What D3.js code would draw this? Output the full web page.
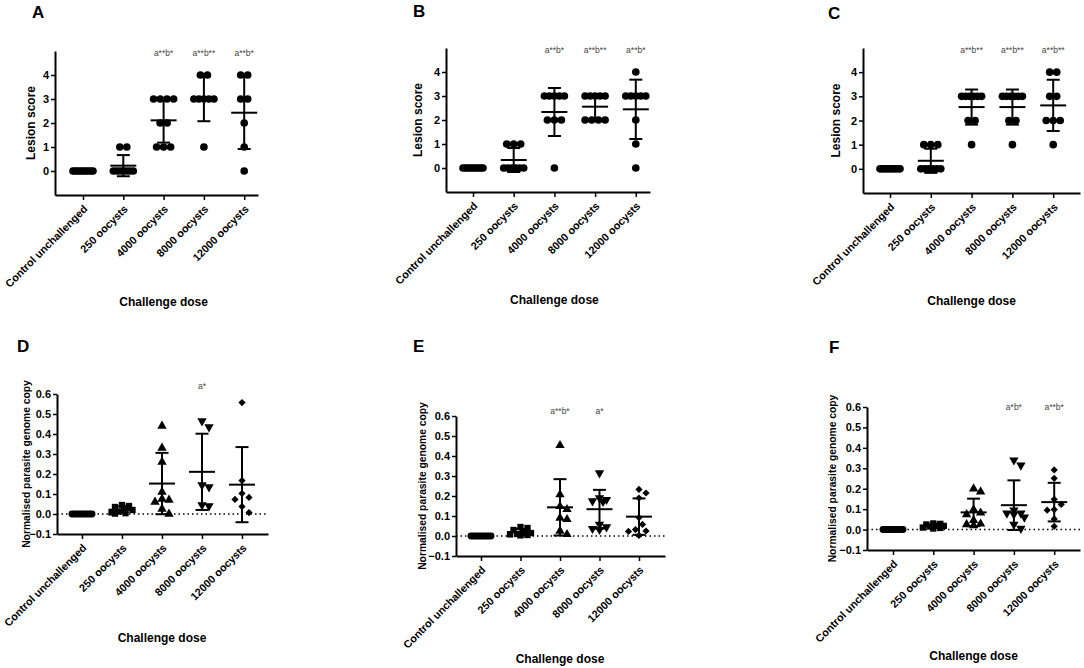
<!DOCTYPE html>
<html>
<head>
<meta charset="utf-8">
<script src="https://cdn.jsdelivr.net/npm/d3@7"></script>
<style>
  body { margin: 0; background: #fff; }
  text { font-family: "Liberation Sans", Arial, sans-serif; }
</style>
</head>
<body>
<div id="chart"></div>
<script>
// categories on the x axis (same for every panel)
const categories = ["Control unchallenged", "250 oocysts", "4000 oocysts", "8000 oocysts", "12000 oocysts"];

// lesion scores, panels A-C (one array per group)
const lesionA = [
  [0, 0, 0, 0, 0, 0, 0, 0, 0, 0],
  [1, 1, 0, 0, 0, 0, 0, 0, 0],
  [3, 3, 3, 3, 2, 2, 1, 1, 1],
  [4, 4, 3, 3, 3, 3, 3, 1],
  [4, 4, 3, 3, 2, 1, 0]
];
const lesionB = [
  [0, 0, 0, 0, 0, 0, 0, 0, 0, 0],
  [1, 1, 1, 0, 0, 0, 0, 0, 0],
  [3, 3, 3, 3, 3, 2, 2, 2, 0],
  [3, 3, 3, 3, 3, 2, 2, 2, 2],
  [4, 3, 3, 3, 3, 3, 2, 1, 0]
];
const lesionC = [
  [0, 0, 0, 0, 0, 0, 0, 0, 0, 0],
  [1, 1, 1, 0, 0, 0, 0, 0, 0],
  [3, 3, 3, 3, 3, 3, 2, 2, 1],
  [3, 3, 3, 3, 3, 3, 2, 2, 1],
  [4, 4, 3, 3, 2, 2, 2, 1]
];

// normalised parasite genome copy, panels D-F
const copyD = [
  [0, 0, 0, 0, 0, 0, 0, 0, 0, 0],
  [0.045, 0.04, 0.035, 0.03, 0.02, 0.012, 0.008, 0.004, 0.002],
  [0.44, 0.33, 0.26, 0.11, 0.075, 0.07, 0.06, 0.025, 0.0],
  [0.465, 0.435, 0.145, 0.135, 0.045, 0.04],
  [0.557, 0.167, 0.103, 0.083, 0.073, 0.037, 0.007]
];
const copyE = [
  [0, 0, 0, 0, 0, 0, 0, 0, 0, 0],
  [0.045, 0.04, 0.03, 0.02, 0.015, 0.01, 0.008, 0.005, 0.003],
  [0.453, 0.207, 0.148, 0.133, 0.09, 0.083, 0.025, 0.008],
  [0.315, 0.19, 0.182, 0.175, 0.172, 0.058, 0.045, 0.037, 0.032],
  [0.233, 0.215, 0.19, 0.092, 0.058, 0.032, 0.025, 0.023, 0.003]
];
const copyF = [
  [0, 0, 0, 0, 0, 0, 0, 0, 0, 0],
  [0.03, 0.028, 0.025, 0.02, 0.018, 0.015, 0.01, 0.008, 0.005],
  [0.2, 0.185, 0.098, 0.082, 0.074, 0.045, 0.028, 0.025, 0.02],
  [0.34, 0.315, 0.095, 0.08, 0.08, 0.075, 0.06, 0.025, 0.005],
  [0.292, 0.251, 0.148, 0.123, 0.098, 0.095, 0.052, 0.016]
];

// significance notes above the groups
const notesA = ["", "", "a**b*", "a**b**", "a**b*"];
const notesB = ["", "", "a**b*", "a**b**", "a**b*"];
const notesC = ["", "", "a**b**", "a**b**", "a**b**"];
const notesD = ["", "", "", "a*", ""];
const notesE = ["", "", "a**b*", "a*", ""];
const notesF = ["", "", "", "a*b*", "a**b*"];

// axis domains and ticks
const scoreDomain = [-1, 5];
const scoreTicks = [0, 1, 2, 3, 4];
const copyDomain = [-0.1, 0.6];
const copyTicks = [-0.1, 0, 0.1, 0.2, 0.3, 0.4, 0.5, 0.6];

const svg = d3
  .select("#chart")
  .append("svg")
  .attr("width", 1084)
  .attr("height", 668);

// panel layout (pixel boxes of each small plot)
const panels = [
  { letter: "A", values: lesionA, notes: notesA, kind: "score", axisX: 55, first: 83, step: 40.3, xEnd: 258, yTop: 51, yBot: 195, letterX: 32, letterY: 18, labelX: 31, noteY: 56, titleY: 306 },
  { letter: "B", values: lesionB, notes: notesB, kind: "score", axisX: 446, first: 473, step: 40.7, xEnd: 650, yTop: 48, yBot: 192, letterX: 413, letterY: 17, labelX: 418, noteY: 53, titleY: 304 },
  { letter: "C", values: lesionC, notes: notesC, kind: "score", axisX: 863, first: 890, step: 40.8, xEnd: 1080, yTop: 48, yBot: 193, letterX: 828, letterY: 19, labelX: 836, noteY: 53, titleY: 305 },
  { letter: "D", values: copyD, notes: notesD, kind: "copy", axisX: 57, first: 82, step: 40, xEnd: 268, yTop: 394, yBot: 534, letterX: 17, letterY: 352, labelX: 26, noteY: 389, titleY: 642 },
  { letter: "E", values: copyE, notes: notesE, kind: "copy", axisX: 456, first: 481, step: 39.5, xEnd: 665, yTop: 416, yBot: 556, letterX: 413, letterY: 352, labelX: 422, noteY: 414, titleY: 663 },
  { letter: "F", values: copyF, notes: notesF, kind: "copy", axisX: 867, first: 893, step: 40.3, xEnd: 1080, yTop: 407, yBot: 550, letterX: 829, letterY: 353, labelX: 832, noteY: 410, titleY: 660 }
];

// identical values: spread evenly side by side, squeezed when there are many
function spreadEqual(vals, y) {
  const pts = vals.map((v) => ({ v: v, py: y(v) })).sort((a, b) => a.py - b.py);
  const groups = d3.groups(pts, (d) => d.v);
  groups.forEach(([, g]) => {
    const n = g.length;
    const s = n > 1 ? Math.min(7, 20 / (n - 1)) : 0;
    g.forEach((p, k) => (p.dx = (k - (n - 1) / 2) * s));
  });
  return pts;
}

// continuous values: small beeswarm kept within +/- maxDx of the centre
function swarm(vals, y, r, maxDx) {
  const pts = vals.map((v) => ({ v: v, py: y(v), dx: 0 })).sort((a, b) => a.py - b.py);
  const placed = [];
  const cands = [0];
  for (let d = r / 2; d <= maxDx; d += r / 2) cands.push(d, -d);
  pts.forEach((p) => {
    let best = 0;
    let bestDist = -1;
    for (const c of cands) {
      const dist = placed.length
        ? d3.min(placed, (q) => Math.hypot(q.dx - c, q.py - p.py))
        : Infinity;
      if (dist >= r) {
        best = c;
        break;
      }
      if (dist > bestDist) {
        bestDist = dist;
        best = c;
      }
    }
    p.dx = best;
    placed.push(p);
  });
  return pts;
}

// marker shapes for the genome copy panels
const copySymbols = [
  { type: d3.symbolCircle, size: 38, rot: 0 },
  { type: d3.symbolSquare, size: 40, rot: 0 },
  { type: d3.symbolTriangle, size: 38, rot: 0 },
  { type: d3.symbolTriangle, size: 38, rot: 180 },
  { type: d3.symbolSquare, size: 26, rot: 45 }
];

panels.forEach(drawPanel);

function drawPanel(p) {
  const g = svg.append("g");
  const isScore = p.kind === "score";

  const y = d3
    .scaleLinear()
    .domain(isScore ? scoreDomain : copyDomain)
    .range([p.yBot, p.yTop]);

  // x scale stretched so that the axis line runs from the y axis to xEnd
  const x = d3
    .scaleLinear()
    .domain([(p.axisX - p.first) / p.step, (p.xEnd - p.first) / p.step])
    .range([p.axisX, p.xEnd]);

  // panel letter
  g.append("text")
    .attr("x", p.letterX)
    .attr("y", p.letterY)
    .attr("font-size", 17)
    .attr("font-weight", "bold")
    .text(p.letter);

  // dotted zero line
  if (!isScore) {
    g.append("line")
      .attr("x1", p.axisX)
      .attr("x2", p.xEnd)
      .attr("y1", y(0))
      .attr("y2", y(0))
      .attr("stroke", "#000")
      .attr("stroke-width", 1.5)
      .attr("stroke-dasharray", "1.5,3");
  }

  // y axis
  const yAxis = g
    .append("g")
    .attr("transform", "translate(" + p.axisX + ",0)")
    .call(
      d3
        .axisLeft(y)
        .tickValues(isScore ? scoreTicks : copyTicks)
        .tickSize(4)
        .tickSizeOuter(0)
        .tickFormat(isScore ? d3.format("d") : d3.format(".1f"))
    );
  yAxis.select(".domain").attr("stroke-width", 2);
  yAxis.selectAll(".tick line").attr("stroke-width", 1.5);
  yAxis
    .selectAll(".tick text")
    .attr("font-family", "Liberation Sans, Arial, sans-serif")
    .attr("font-size", 11)
    .attr("font-weight", "bold")
    .attr("x", -6);

  // x axis
  const xAxis = g
    .append("g")
    .attr("transform", "translate(0," + p.yBot + ")")
    .call(
      d3
        .axisBottom(x)
        .tickValues(d3.range(categories.length))
        .tickSize(5)
        .tickSizeOuter(0)
        .tickFormat((i) => categories[i])
    );
  xAxis.select(".domain").attr("stroke-width", 2);
  xAxis.selectAll(".tick line").attr("stroke-width", 1.5);
  xAxis
    .selectAll(".tick text")
    .attr("font-family", "Liberation Sans, Arial, sans-serif")
    .attr("font-size", 10.8)
    .attr("font-weight", "bold")
    .attr("text-anchor", "end")
    .attr("x", 0)
    .attr("y", 0)
    .attr("dy", "0.35em")
    .attr("transform", "translate(2,12) rotate(-45)");

  // axis titles
  g.append("text")
    .attr("transform", "translate(" + p.labelX + "," + (p.yTop + p.yBot) / 2 + ") rotate(-90)")
    .attr("text-anchor", "middle")
    .attr("dy", "0.35em")
    .attr("font-size", isScore ? 12 : 10.3)
    .attr("font-weight", "bold")
    .text(isScore ? "Lesion score" : "Normalised parasite genome copy");

  g.append("text")
    .attr("x", x(2))
    .attr("y", p.titleY)
    .attr("text-anchor", "middle")
    .attr("font-size", 12)
    .attr("font-weight", "bold")
    .text("Challenge dose");

  // points, mean and SD for each group
  p.values.forEach((vals, i) => {
    const cx = x(i);
    const sd = d3.deviation(vals) || 0;
    const pts = isScore || sd === 0 ? spreadEqual(vals, y) : swarm(vals, y, 7, 11);
    const sym = isScore ? { type: d3.symbolCircle, size: 46, rot: 0 } : copySymbols[i];

    g.append("g")
      .selectAll("path")
      .data(pts)
      .enter()
      .append("path")
      .attr("d", d3.symbol().type(sym.type).size(sym.size))
      .attr("transform", (d) => "translate(" + (cx + d.dx) + "," + d.py + ") rotate(" + sym.rot + ")")
      .attr("fill", "#000");

    const m = d3.mean(vals);
    const bar = g.append("g").attr("stroke", "#000").attr("stroke-width", 2);
    bar.append("line")
      .attr("x1", cx - 13).attr("x2", cx + 13)
      .attr("y1", y(m)).attr("y2", y(m));
    if (sd > 0) {
      bar.append("line")
        .attr("x1", cx).attr("x2", cx)
        .attr("y1", y(m + sd)).attr("y2", y(m - sd));
      [m + sd, m - sd].forEach((v) => {
        bar.append("line")
          .attr("x1", cx - 6.5).attr("x2", cx + 6.5)
          .attr("y1", y(v)).attr("y2", y(v));
      });
    }

    // note above the group
    if (p.notes[i]) {
      g.append("text")
        .attr("x", cx)
        .attr("y", p.noteY)
        .attr("text-anchor", "middle")
        .attr("font-size", 8.5)
        .attr("fill", "#444")
        .text(p.notes[i]);
    }
  });
}
</script>
</body>
</html>
